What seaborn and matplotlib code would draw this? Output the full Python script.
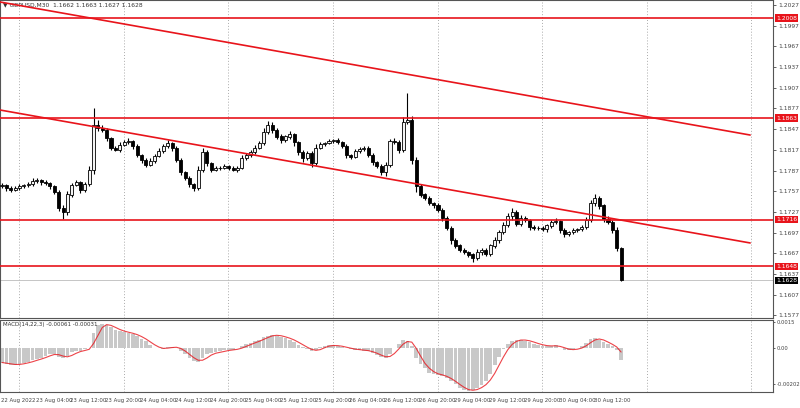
import numpy as np
import pandas as pd
import matplotlib
matplotlib.use("Agg")
import matplotlib.pyplot as plt
import seaborn as sns

closes = [1.1766,1.1762,1.1759,1.1762,1.1764,1.1766,1.1767,1.1772,1.1773,1.1770,
          1.1769,1.1764,1.1756,1.1733,1.1727,1.1752,1.1766,1.1770,1.1759,1.1767,
          1.1788,1.1853,1.1849,1.1846,1.1834,1.1820,1.1817,1.1824,1.1828,1.1830,
          1.1822,1.1809,1.1802,1.1795,1.1801,1.1808,1.1815,1.1822,1.1827,1.1820,
          1.1802,1.1785,1.1776,1.1767,1.1762,1.1788,1.1814,1.1798,1.1788,1.1791,
          1.1791,1.1793,1.1791,1.1788,1.1791,1.1805,1.1809,1.1814,1.1820,1.1827,
          1.1843,1.1853,1.1846,1.1836,1.1831,1.1836,1.1839,1.1828,1.1814,1.1805,
          1.1812,1.1798,1.1820,1.1825,1.1827,1.1830,1.1831,1.1828,1.1822,1.1809,
          1.1807,1.1815,1.1818,1.1820,1.1809,1.1799,1.1793,1.1785,1.1795,1.1830,
          1.1828,1.1817,1.1857,1.1860,1.1802,1.1764,1.1752,1.1747,1.1740,1.1737,
          1.1730,1.1718,1.1704,1.1686,1.1678,1.1672,1.1669,1.1665,1.1660,1.1669,
          1.1672,1.1666,1.1678,1.1686,1.1698,1.1708,1.1721,1.1727,1.1710,1.1718,
          1.1715,1.1705,1.1704,1.1704,1.1702,1.1707,1.1712,1.1714,1.1701,1.1695,
          1.1698,1.1701,1.1702,1.1705,1.1715,1.1740,1.1747,1.1736,1.1717,1.1712,
          1.1701,1.1675,1.1628]
first_open = 1.1764
wick_up_pips = [3,2,3,2,3,2,3,4,3,2, 3,2,2,3,4,5,3,4,2,3, 5,25,8,4,3,2,3,4,3,4,
                2,3,2,3,4,3,4,3,4,2, 2,3,2,3,2,5,6,3,2,3, 2,3,2,3,2,4,3,3,4,3,
                5,6,4,3,4,3,5,3,2,3, 4,3,5,3,2,3,2,3,2,3, 2,3,3,2,2,3,2,3,4,3,
                4,3,8,40,6,4,3,2,3,2, 3,2,3,2,3,2,3,2,3,4, 3,2,3,4,3,4,5,5,3,4,
                3,2,3,2,3,2,3,4,2,3, 2,3,2,3,4,5,6,3,3,4, 3,4,1]
wick_dn_pips = [3,4,3,2,3,2,3,2,3,4, 3,4,3,4,10,5,3,2,4,3, 3,6,5,3,4,3,2,3,2,3,
                4,3,4,3,2,3,2,3,2,4, 3,4,3,4,5,3,3,4,3,2, 3,2,3,2,3,2,3,2,3,2,
                3,3,4,3,4,3,3,5,4,5, 3,6,3,2,3,2,3,2,3,4, 3,2,3,2,3,4,3,4,6,3,
                3,4,3,3,5,8,4,3,3,4, 3,4,3,5,4,3,3,4,5,3, 4,3,3,3,4,3,3,5,4,3,
                3,4,3,3,3,4,3,3,4,5, 3,3,3,3,3,3,4,5,4,3, 4,5,1]
macd_hist = [-0.0008,-0.00087,-0.00094,-0.00092,-0.00087,-0.00083,-0.00076,-0.00068,-0.00059,-0.00054,
             -0.00043,-0.0003,-0.0003,-0.00046,-0.00054,-0.00043,-0.00023,-0.00017,-0.00013,-0.00005,
             0.00003,0.00086,0.00132,0.00139,0.00135,0.00119,0.00106,0.00099,0.00092,0.00086,
             0.00081,0.00069,0.00053,0.0004,0.0002,0.00003,0.0,-0.00002,0.00007,0.0001,
             0.00003,-0.00013,-0.00033,-0.00054,-0.00071,-0.00076,-0.00054,-0.00033,-0.00026,-0.00023,
             -0.00017,-0.0001,-0.00008,-0.00007,0.0,0.00012,0.00023,0.00031,0.0004,0.0005,
             0.00063,0.00073,0.00078,0.00073,0.00066,0.00059,0.0005,0.00036,0.0002,0.00007,
             -0.00005,-0.00017,-0.0001,0.00007,0.00015,0.00018,0.00017,0.00013,0.00008,0.0,
             -0.00005,-0.00007,-0.00008,-0.00012,-0.00017,-0.00026,-0.00038,-0.0005,-0.00054,-0.00033,
             0.0,0.00023,0.0005,0.00045,0.00012,-0.00054,-0.00087,-0.00112,-0.00137,-0.00145,
             -0.0015,-0.00155,-0.0017,-0.00186,-0.00203,-0.00224,-0.00236,-0.00241,-0.00236,-0.00224,
             -0.00208,-0.00186,-0.00145,-0.00096,-0.00046,-0.00005,0.00028,0.00045,0.00048,0.0005,
             0.00045,0.00036,0.00028,0.0002,0.00015,0.00013,0.00015,0.00017,0.00003,-0.00007,
             -0.00008,-0.00005,0.0,0.00012,0.00033,0.00053,0.00058,0.0005,0.00036,0.00023,
             0.00012,-0.0001,-0.00063]
levels = [1.2008, 1.1863, 1.1716, 1.1648]
level_labels = ["1.2008", "1.1863", "1.1716", "1.1648"]
last_price = 1.1628
price_ticks = [1.2027,1.1997,1.1967,1.1937,1.1907,1.1877,1.1847,1.1817,1.1787,1.1757,1.1727,1.1697,1.1667,1.1637,1.1607,1.1577]
time_labels = ["22 Aug 2022","23 Aug 04:00","23 Aug 12:00","23 Aug 20:00","24 Aug 04:00","24 Aug 12:00",
               "24 Aug 20:00","25 Aug 04:00","25 Aug 12:00","25 Aug 20:00","26 Aug 04:00","26 Aug 12:00",
               "26 Aug 20:00","29 Aug 04:00","29 Aug 12:00","29 Aug 20:00","30 Aug 04:00","30 Aug 12:00"]
trend1 = [(-0.46, 1.20314), (171.6, 1.18385)]
trend2 = [(-0.46, 1.18748), (171.6, 1.16820)]

sns.set_style("white")
plt.rcParams['font.family'] = ['DejaVu Sans']

n = len(closes)
opens = [first_open] + closes[:-1]
highs = [max(o, c) + u * 1e-4 for o, c, u in zip(opens, closes, wick_up_pips)]
lows = [min(o, c) - d * 1e-4 for o, c, d in zip(opens, closes, wick_dn_pips)]
idx = np.arange(n)

fig = plt.figure(figsize=(8, 4.08), dpi=100)
ax = fig.add_axes([0.0, 0.2206, 0.966, 0.7794])
axm = fig.add_axes([0.0, 0.039, 0.966, 0.176])
xlim = (-0.46, 176.8)
red = "#e8141b"
fs = 4.3

grid_x = [3.9 + 24 * k for k in range(8)]
for a in (ax, axm):
    for g in grid_x:
        a.axvline(g, color="#aaaaaa", lw=0.7, ls=(0, (1, 2)), zorder=0)

ax.vlines(idx, lows, highs, color="black", lw=0.8, zorder=3)
ax.bar(idx, np.abs(np.array(closes) - np.array(opens)) + 0.00004,
       bottom=np.minimum(opens, closes), width=0.7,
       color=["#f4f4f4" if c > o else "black" for o, c in zip(opens, closes)],
       edgecolor="black", linewidth=0.6, zorder=4)
for lv in levels:
    ax.axhline(lv, color=red, lw=1.2, zorder=5)
ax.axhline(last_price, color="#bbbbbb", lw=0.6, zorder=1)
for (x0, y0), (x1, y1) in [trend1, trend2]:
    ax.plot([x0, x1], [y0, y1], color=red, lw=1.2, zorder=5)

ax.set_xlim(*xlim)
ax.set_ylim(1.15732, 1.20343)
ax.set_xticks([])
ax.yaxis.tick_right()
ax.set_yticks(price_ticks)
ax.set_yticklabels([f"{t:.4f}" for t in price_ticks], fontsize=fs, color="#444444")
ax.tick_params(axis="y", length=2, pad=2, width=0.5)
for lv, lab in zip(levels, level_labels):
    ax.text(1.004, lv, lab, transform=ax.get_yaxis_transform(), fontsize=fs, color="white",
            va="center", ha="left", bbox=dict(boxstyle="square,pad=0.2", fc=red, ec="none"))
ax.text(1.004, last_price, f"{last_price:.4f}", transform=ax.get_yaxis_transform(), fontsize=fs,
        color="white", va="center", ha="left", bbox=dict(boxstyle="square,pad=0.2", fc="black", ec="none"))
ax.text(0.004, 0.992, "▼ GBPUSD,M30  1.1662 1.1663 1.1627 1.1628", transform=ax.transAxes,
        fontsize=4.3, va="top", ha="left", color="#333333")

mdf = pd.DataFrame({"i": idx, "hist": macd_hist})
mdf["signal"] = mdf["hist"].rolling(3, min_periods=1).mean()
sns.barplot(data=mdf, x="i", y="hist", color="#c8c8c8", width=0.85, ax=axm, native_scale=True,
            saturation=1, linewidth=0)
sns.lineplot(data=mdf, x="i", y="signal", color="#e8141b", lw=0.8, ax=axm, alpha=0.8)
axm.set_xlim(*xlim)
axm.set_ylim(-0.00248, 0.0016)
axm.yaxis.tick_right()
axm.set_yticks([0.0015, 0.0, -0.00202])
axm.set_yticklabels(["0.0015", "0.00", "-0.00202"], fontsize=3.8, color="#444444")
axm.tick_params(axis="y", length=1.5, pad=1, width=0.5)
axm.set_xlabel(""); axm.set_ylabel("")
axm.set_xticks([8 * k - 0.3 for k in range(len(time_labels))])
axm.set_xticklabels(time_labels, fontsize=3.9, ha="left", color="#444444")
axm.tick_params(axis="x", length=2, pad=2, width=0.5)
axm.text(0.004, 0.97, "MACD(14,22,3) -0.00061 -0.00031", transform=axm.transAxes,
         fontsize=4.0, va="top", ha="left", color="#333333")
for a in (ax, axm):
    for s in a.spines.values():
        s.set_color("#555555"); s.set_linewidth(0.8)

fig.savefig("out.png", dpi=100)
